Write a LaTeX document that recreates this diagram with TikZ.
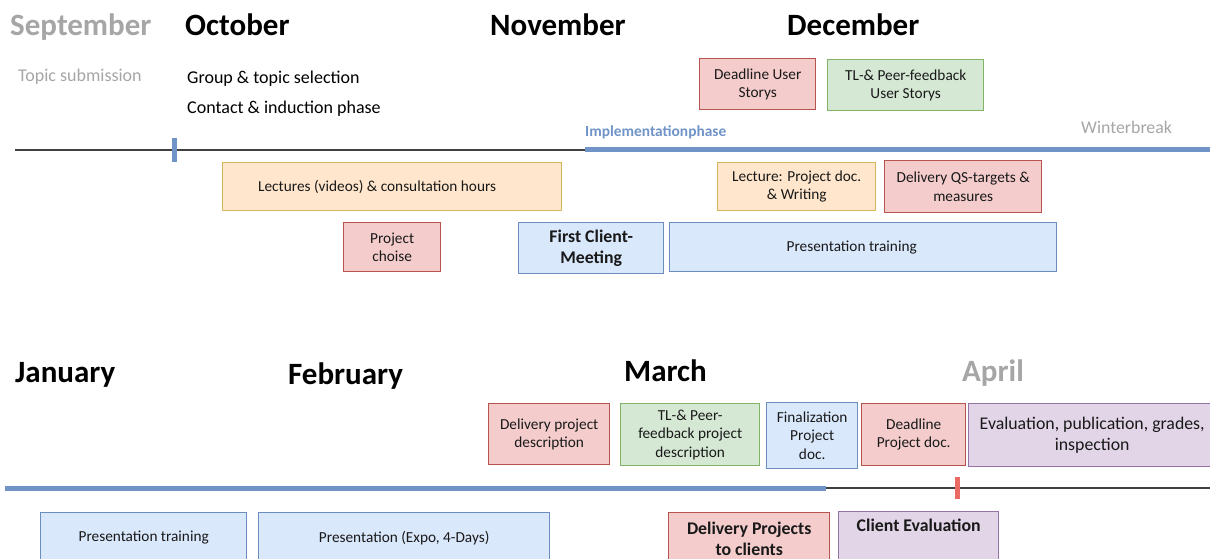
\documentclass[tikz,border=0pt]{standalone}
\usepackage{fontspec}
\setmainfont{Carlito}
\usepackage{xcolor}
\usetikzlibrary{positioning}

\definecolor{redfill}{HTML}{F4CCCC}
\definecolor{redline}{HTML}{B85450}
\definecolor{grnfill}{HTML}{D5E8D4}
\definecolor{grnline}{HTML}{82B366}
\definecolor{bluefill}{HTML}{DAE8FC}
\definecolor{blueline}{HTML}{6C8EBF}
\definecolor{orgfill}{HTML}{FFE6CC}
\definecolor{orgline}{HTML}{D6B656}
\definecolor{purpfill}{HTML}{E1D5E7}
\definecolor{purpline}{HTML}{9673A6}
\definecolor{phase}{HTML}{7094C8}
\definecolor{greytext}{HTML}{A6A6A6}
\definecolor{axis}{HTML}{404040}
\definecolor{tickred}{HTML}{EA6B66}

\begin{document}
\begin{tikzpicture}[
    x=1pt, y=-1pt,
    month/.style={anchor=base west, inner sep=0pt, font=\fontsize{31}{37}\selectfont\bfseries},
    note/.style={anchor=base west, inner sep=0pt, font=\fontsize{18}{22}\selectfont},
    card/.style={rectangle, anchor=north west, line width=1.4pt, align=center,
                 inner sep=2pt, font=\fontsize{15.3}{18.5}\selectfont, text=black!90},
    redbox/.style={card, draw=redline, fill=redfill},
    grnbox/.style={card, draw=grnline, fill=grnfill},
    bluebox/.style={card, draw=blueline, fill=bluefill},
    orgbox/.style={card, draw=orgline, fill=orgfill},
    purpbox/.style={card, draw=purpline, fill=purpfill},
    bigtxt/.style={font=\fontsize{17.8}{21.5}\selectfont},
    boldtxt/.style={font=\fontsize{17.8}{21}\selectfont\bfseries},
    tick/.style={rectangle, inner sep=0pt, minimum width=5, minimum height=24},
    thin/.style={draw=axis, line width=1.5pt},
    phaseline/.style={draw=phase, line width=5pt}
]
\clip (0,0) rectangle (1210,559);
\fill[white] (0,0) rectangle (1210,559);

% autumn term
\node[month, text=greytext] (sep) at (10,36) {September};
\node[month] (oct) at (185,36) {October};
\node[month] (nov) at (490,36) {November};
\node[month] (dec) at (787,36) {December};

\node[note, text=greytext] (topic) at (18,82) {Topic submission};
\node[note] (group) at (187,84) {Group \& topic selection};
\node[note] (contact) at (187,114) {Contact \& induction phase};

\coordinate (ax1a) at (15,150);
\coordinate (ax1b) at (585,150);
\coordinate (ax1c) at (1212,150);
\draw[thin] (ax1a) -- (ax1b);
\draw[phaseline] (ax1b) -- (ax1c);
\node[tick, fill=phase] (tick1) at (174.5,150) {};

\node[anchor=base west, inner sep=0pt, text=phase, font=\fontsize{15.4}{18}\selectfont\bfseries] (impl) at (585,136) {Implementationphase};
\node[anchor=base west, inner sep=0pt, text=greytext, font=\fontsize{17.8}{21}\selectfont] (winter) at (1081,134) {Winterbreak};

\node[redbox, minimum width=116, minimum height=51] (dlus) at (699,58) {Deadline User\\Storys};
\node[grnbox, minimum width=156, minimum height=51] (tlus) at (827,59) {TL-\& Peer-feedback\\User Storys};

% text sits a bit left of centre in the two wide boxes
\node[orgbox, minimum width=339, minimum height=48] (lect) at (222,162) {\hspace*{-30pt}Lectures (videos) \& consultation hours};
\node[orgbox, minimum width=158, minimum height=48] (lecdoc) at (717,162) {Lecture: Project doc.\\\& Writing};
\node[redbox, minimum width=157, minimum height=52] (qs) at (884,160) {Delivery QS-targets \&\\measures};

\node[redbox, minimum width=97, minimum height=49] (choice) at (343,222) {Project\\choise};
\node[bluebox, boldtxt, minimum width=145, minimum height=51] (fcm) at (518,222) {First Client-\\Meeting};
\node[bluebox, minimum width=387, minimum height=49] (train1) at (669,222) {\hspace*{-23pt}Presentation training};

% spring term
\node[month] (jan) at (15,382) {January};
\node[month] (feb) at (288,384) {February};
\node[month] (mar) at (624,381) {March};
\node[month, text=greytext] (apr) at (962,381) {April};

\node[redbox, minimum width=121, minimum height=61] (dpd) at (488,403) {Delivery project\\description};
\node[grnbox, minimum width=139, minimum height=62] (tlpd) at (620,403) {TL-\& Peer-\\feedback project\\description};
\node[bluebox, minimum width=91, minimum height=66] (fin) at (766,402) {Finalization\\Project\\doc.};
\node[redbox, minimum width=104, minimum height=62] (dlpd) at (861,403) {Deadline\\Project doc.};
\node[purpbox, bigtxt, minimum width=247, minimum height=63] (eval) at (968,403) {Evaluation, publication, grades,\\inspection};

\coordinate (ax2a) at (5,488);
\coordinate (ax2b) at (826,488);
\coordinate (ax2c) at (1212,488);
\draw[phaseline] (ax2a) -- (ax2b);
\draw[thin] (ax2b) -- (ax2c);
\node[tick, fill=tickred, minimum height=22] (tick2) at (957.5,488) {};

\node[bluebox, minimum width=206, minimum height=50] (train2) at (40,512) {Presentation training};
\node[bluebox, minimum width=291, minimum height=50] (expo) at (258,512) {Presentation (Expo, 4-Days)};
\node[redbox, boldtxt, minimum width=161, minimum height=53] (dpc) at (668,512) {Delivery Projects\\to clients};
\node[purpbox, boldtxt, minimum width=160, text height=17, text depth=40, inner ysep=3] (ceval) at (838,511) {Client Evaluation};
\end{tikzpicture}
\end{document}
